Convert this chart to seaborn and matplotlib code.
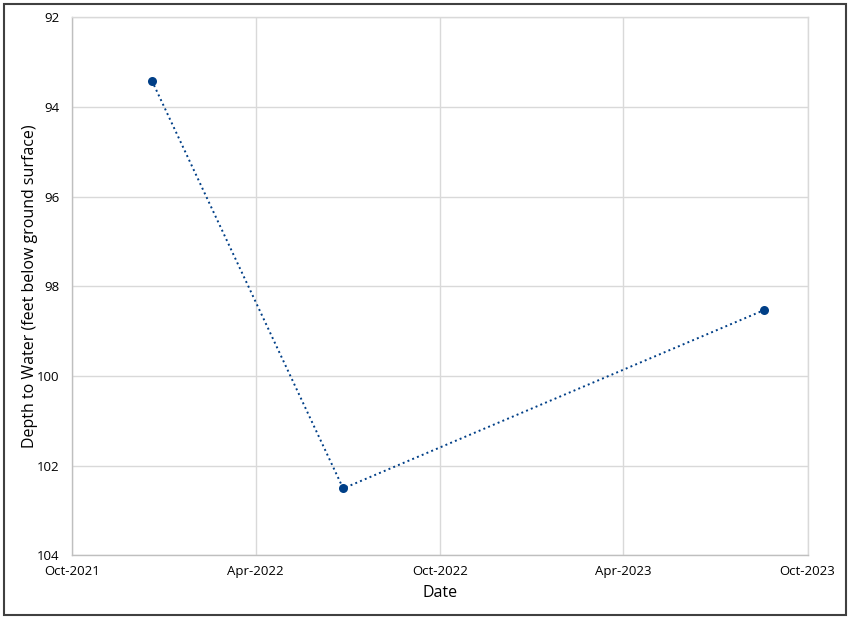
import pandas as pd
import seaborn as sns
import matplotlib.pyplot as plt
from matplotlib.patches import Rectangle

# measurement dates and depth to water readings
dates  = ['2021-12-19', '2022-06-27', '2023-08-19']
depths = [93.41, 102.51, 98.53]

tick_dates  = ['2021-10-01', '2022-04-01', '2022-10-01', '2023-04-01', '2023-10-01']
tick_labels = ['Oct-2021', 'Apr-2022', 'Oct-2022', 'Apr-2023', 'Oct-2023']
y_ticks     = [92, 94, 96, 98, 100, 102, 104]

df = pd.DataFrame({'date': pd.to_datetime(dates), 'depth': depths})

sns.set_style('white')
plt.rcParams['font.family'] = ['Open Sans', 'DejaVu Sans']
plt.rcParams['text.color'] = 'black'
plt.rcParams['axes.labelcolor'] = 'black'
plt.rcParams['xtick.color'] = 'black'
plt.rcParams['ytick.color'] = 'black'

fig, ax = plt.subplots(figsize=(8.5, 6.19), dpi=100)
fig.subplots_adjust(left=0.085, right=0.95, top=0.972, bottom=0.103)

sns.lineplot(data=df, x='date', y='depth', ax=ax, color='#003f87',
             linestyle=':', linewidth=1.4, marker='o', markersize=6.5,
             markeredgewidth=0)

ax.set_xlim(pd.Timestamp(tick_dates[0]), pd.Timestamp(tick_dates[-1]))
ax.set_xticks(pd.to_datetime(tick_dates))
ax.set_xticklabels(tick_labels, fontsize=9.5)
ax.set_ylim(104, 92)
ax.set_yticks(y_ticks)
ax.set_yticklabels([str(v) for v in y_ticks], fontsize=9.5)
ax.tick_params(axis='y', length=0, pad=9)
ax.tick_params(axis='x', length=0, pad=7)

ax.grid(True, color='#d9d9d9', linewidth=1)
for side in ax.spines.values():
    side.set_color('#d9d9d9')
    side.set_linewidth(1)
ax.spines['left'].set_color('#bfbfbf')
ax.spines['bottom'].set_color('#bfbfbf')

ax.set_xlabel('Date', fontsize=11.5, labelpad=5)
ax.set_ylabel('Depth to Water (feet below ground surface)', fontsize=11.5)
ax.yaxis.set_label_coords(-0.047, 0.5)

# outer border around the figure
fig.patches.append(Rectangle((0.005, 0.006), 0.99, 0.988, transform=fig.transFigure,
                             fill=False, edgecolor='#404040', linewidth=1.5))

plt.savefig('out.png', dpi=100)
plt.close()
